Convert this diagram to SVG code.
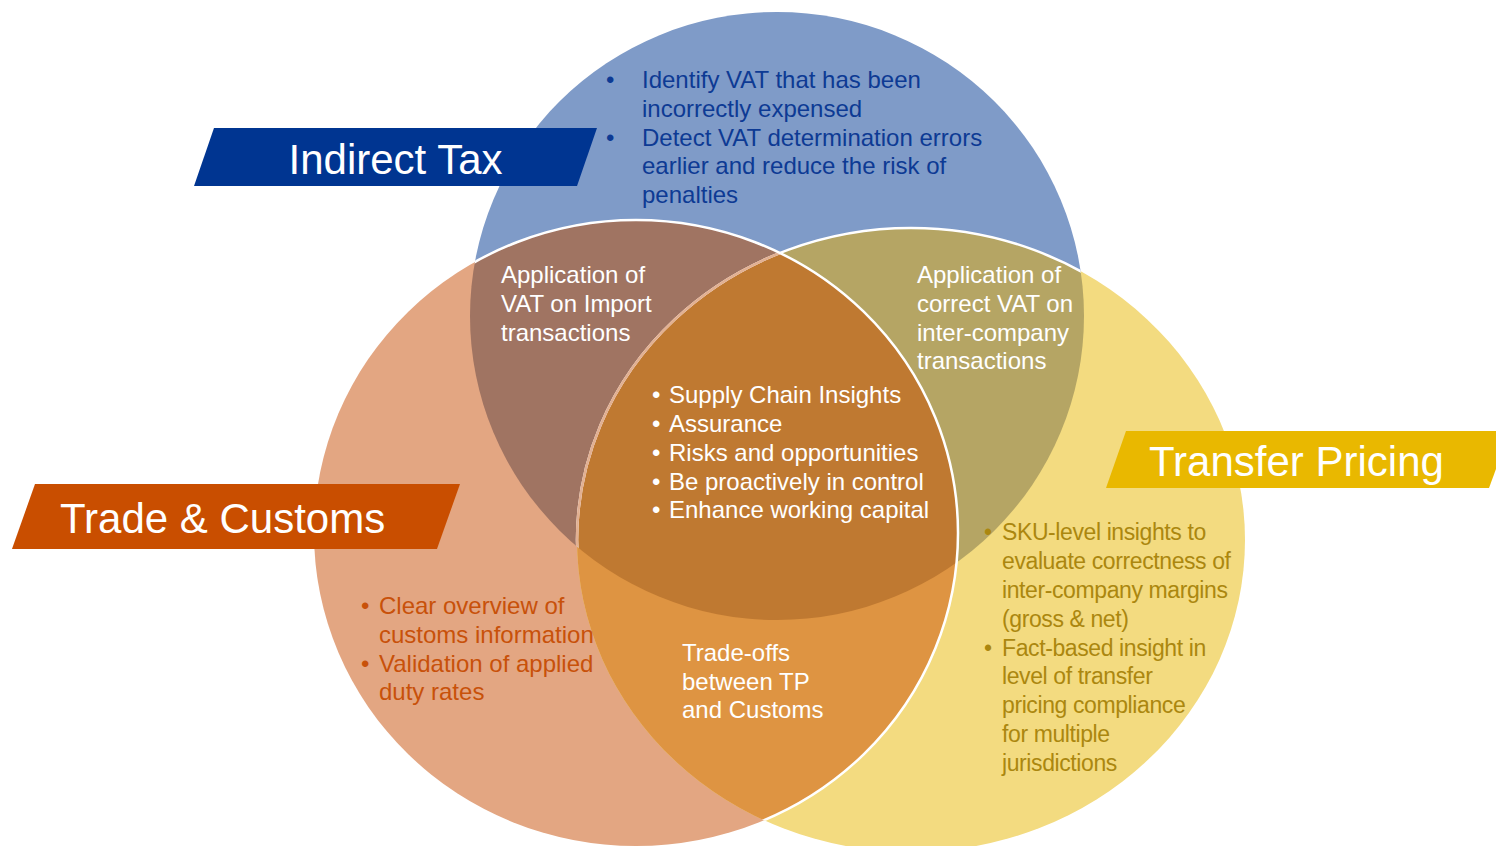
<svg xmlns="http://www.w3.org/2000/svg" width="1496" height="846" viewBox="0 0 1496 846">
<style>
text{font-family:"Liberation Sans",Arial,Helvetica,sans-serif;}
.banner{font-size:42px;fill:#ffffff;}
.body{font-size:24px;}
.w{fill:#ffffff;}
.blueT{fill:#0d3a94;}
.orT{fill:#c8510a;}
.tpT{fill:#ab870f;}
</style>
<defs>
<clipPath id="cBlue"><ellipse cx="777" cy="316" rx="307" ry="304"/></clipPath>
<clipPath id="cOrange"><ellipse cx="636" cy="533" rx="322" ry="313"/></clipPath>
<clipPath id="cBlueYellow"><ellipse cx="777" cy="316" rx="307" ry="304"/><ellipse cx="911" cy="540" rx="334" ry="312"/></clipPath>
</defs>
<rect width="1496" height="846" fill="#ffffff"/>

<g id="venn-circles">
<ellipse id="circle-indirect-tax" cx="777" cy="316" rx="307" ry="304" fill="#7f9bc8"/>
<ellipse id="circle-trade-customs" cx="636" cy="533" rx="322" ry="313" fill="#e3a682"/>
<ellipse id="circle-transfer-pricing" cx="911" cy="540" rx="334" ry="312" fill="#f3db80"/>
<g clip-path="url(#cBlue)">
<ellipse cx="636" cy="533" rx="322" ry="313" fill="#a07462"/>
<ellipse cx="911" cy="540" rx="334" ry="312" fill="#b5a564"/>
</g>
<g clip-path="url(#cOrange)">
<ellipse cx="911" cy="540" rx="334" ry="312" fill="#de9442"/>
</g>
<g clip-path="url(#cBlue)"><g clip-path="url(#cOrange)">
<ellipse cx="911" cy="540" rx="334" ry="312" fill="#bf7931"/>
</g></g>
<g fill="none">
<g clip-path="url(#cBlue)">
<ellipse cx="911" cy="540" rx="334" ry="312" stroke="#ffffff" stroke-width="2.5"/>
<g clip-path="url(#cOrange)">
<ellipse cx="911" cy="540" rx="334" ry="312" stroke="#e2b092" stroke-width="2.5"/>
</g>
</g>
<g clip-path="url(#cBlueYellow)">
<ellipse cx="636" cy="533" rx="322" ry="313" stroke="#ffffff" stroke-width="2.5"/>
</g>
</g>
</g>

<g id="connectors"/>

<g id="indirect-tax">
<polygon points="214,128 597,128 577,186 194,186" fill="#003591"/>
<text class="banner" x="395.5" y="174" text-anchor="middle">Indirect Tax</text>
<text class="body blueT">
<tspan x="606" y="88">•</tspan><tspan x="642" y="88">Identify VAT that has been</tspan>
<tspan x="642" y="117">incorrectly expensed</tspan>
<tspan x="606" y="145.5">•</tspan><tspan x="642" y="145.5">Detect VAT determination errors</tspan>
<tspan x="642" y="174">earlier and reduce the risk of</tspan>
<tspan x="642" y="203">penalties</tspan>
</text>
</g>

<g id="trade-customs">
<polygon points="35,484 460,484 437,549 12,549" fill="#c94e00"/>
<text class="banner" x="60" y="533">Trade &amp; Customs</text>
<text class="body orT">
<tspan x="361" y="614">•</tspan><tspan x="379" y="614">Clear overview of</tspan>
<tspan x="379" y="643">customs information</tspan>
<tspan x="361" y="672">•</tspan><tspan x="379" y="672">Validation of applied</tspan>
<tspan x="379" y="700">duty rates</tspan>
</text>
</g>

<g id="transfer-pricing">
<polygon points="1126,431 1510,431 1489,488 1106,488" fill="#e9b800"/>
<text class="banner" x="1149" y="476">Transfer Pricing</text>
<text class="body tpT" style="font-size:23px;letter-spacing:-0.4px">
<tspan x="984" y="540">•</tspan><tspan x="1002" y="540">SKU-level insights to</tspan>
<tspan x="1002" y="569">evaluate correctness of</tspan>
<tspan x="1002" y="598">inter-company margins</tspan>
<tspan x="1002" y="627">(gross &amp; net)</tspan>
<tspan x="984" y="655.5">•</tspan><tspan x="1002" y="655.5">Fact-based insight in</tspan>
<tspan x="1002" y="684">level of transfer</tspan>
<tspan x="1002" y="713">pricing compliance</tspan>
<tspan x="1002" y="742">for multiple</tspan>
<tspan x="1002" y="770.5">jurisdictions</tspan>
</text>
</g>

<g id="overlap-tax-customs">
<text class="body w">
<tspan x="501" y="283">Application of</tspan>
<tspan x="501" y="312">VAT on Import</tspan>
<tspan x="501" y="340.5">transactions</tspan>
</text>
</g>

<g id="overlap-tax-tp">
<text class="body w">
<tspan x="917" y="283">Application of</tspan>
<tspan x="917" y="312">correct VAT on</tspan>
<tspan x="917" y="340.5">inter-company</tspan>
<tspan x="917" y="369">transactions</tspan>
</text>
</g>

<g id="overlap-all">
<text class="body w">
<tspan x="652" y="403">•</tspan><tspan x="669" y="403">Supply Chain Insights</tspan>
<tspan x="652" y="432">•</tspan><tspan x="669" y="432">Assurance</tspan>
<tspan x="652" y="461">•</tspan><tspan x="669" y="461">Risks and opportunities</tspan>
<tspan x="652" y="489.5">•</tspan><tspan x="669" y="489.5">Be proactively in control</tspan>
<tspan x="652" y="518">•</tspan><tspan x="669" y="518">Enhance working capital</tspan>
</text>
</g>

<g id="overlap-customs-tp">
<text class="body w">
<tspan x="682" y="661">Trade-offs</tspan>
<tspan x="682" y="689.5">between TP</tspan>
<tspan x="682" y="718">and Customs</tspan>
</text>
</g>
</svg>
